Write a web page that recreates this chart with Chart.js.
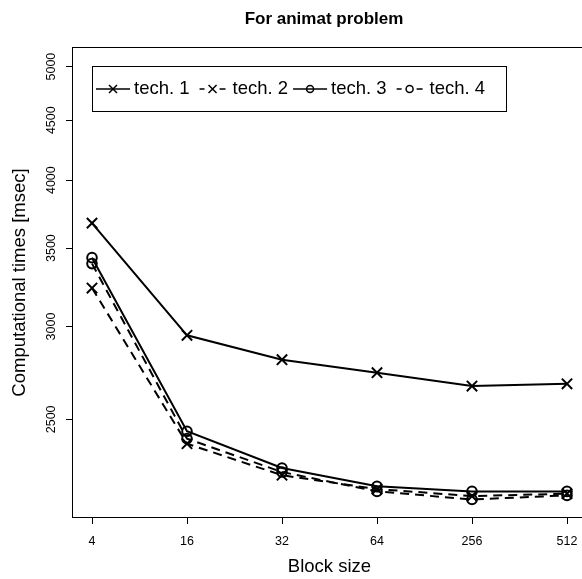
<!DOCTYPE html>
<html><head><meta charset="utf-8">
<script src="https://cdn.jsdelivr.net/npm/chart.js@4"></script>
<style>html,body{margin:0;padding:0;overflow:hidden;background:#fff;width:582px;height:579px}</style>
</head><body>
<canvas id="c" width="648" height="579" style="width:648px;height:579px;display:block"></canvas>
<script>
const categories = ['4', '16', '32', '64', '256', '512'];
const yTicks = [2500, 3000, 3500, 4000, 4500, 5000];
const tech1 = [3676, 2949, 2811, 2740, 2669, 2681];
const tech2 = [3236, 2383, 2240, 2180, 2150, 2160];
const tech3 = [3435, 2442, 2272, 2192, 2170, 2170];
const tech4 = [3395, 2407, 2254, 2170, 2136, 2153];
const seriesNames = ['tech. 1', 'tech. 2', 'tech. 3', 'tech. 4'];
const chartTitle = 'For animat problem';

const FONT = '"Liberation Sans", Arial, Helvetica, sans-serif';
const DASH = [9, 6];

function mkDs(label, vals, dashed, style) {
  return {
    label: label,
    data: vals.map((v, i) => ({x: i, y: v})),
    borderColor: '#000',
    borderWidth: 2,
    borderDash: dashed ? DASH : [],
    pointStyle: style,
    pointRadius: style === 'crossRot' ? 7.3 : 4.8,
    pointBorderWidth: 2,
    pointBorderColor: '#000',
    pointBackgroundColor: 'rgba(0,0,0,0)',
    fill: false,
    tension: 0
  };
}

const boxPlugin = {
  id: 'box',
  afterDraw(chart) {
    const a = chart.chartArea, ctx = chart.ctx;
    ctx.save();
    ctx.strokeStyle = '#000';
    ctx.lineWidth = 1;
    ctx.strokeRect(Math.round(a.left) - 0.5, Math.round(a.top) - 0.5,
      Math.round(a.right - a.left), Math.round(a.bottom - a.top) + 1);
    ctx.restore();
  }
};

const titlePlugin = {
  id: 'rtitle',
  afterDraw(chart) {
    const ctx = chart.ctx;
    ctx.save();
    ctx.fillStyle = '#000';
    ctx.font = 'bold 17px ' + FONT;
    ctx.textAlign = 'center';
    ctx.textBaseline = 'middle';
    ctx.fillText(chartTitle, 324, 19.5);
    ctx.restore();
  }
};

const legendPlugin = {
  id: 'rlegend',
  afterDraw(chart) {
    const ctx = chart.ctx;
    ctx.save();
    ctx.strokeStyle = '#000';
    ctx.fillStyle = '#000';
    ctx.lineWidth = 1;
    ctx.strokeRect(92.5, 66.5, 414, 45);
    ctx.font = '18.5px ' + FONT;
    ctx.textBaseline = 'middle';
    let x = 96;
    const y = 89;
    chart.data.datasets.forEach(ds => {
      ctx.lineWidth = 1.5;
      ctx.beginPath();
      let cx = x + 17;
      if (ds.borderDash.length) {
        [[5, 10], [25, 31]].forEach(s => { ctx.moveTo(x + s[0], y); ctx.lineTo(x + s[1], y); });
        cx = x + 18;
      } else {
        ctx.moveTo(x, y); ctx.lineTo(x + 34, y);
      }
      ctx.stroke();
      ctx.beginPath();
      if (ds.pointStyle === 'crossRot') {
        ctx.moveTo(cx - 4, y - 4); ctx.lineTo(cx + 4, y + 4);
        ctx.moveTo(cx - 4, y + 4); ctx.lineTo(cx + 4, y - 4);
      } else {
        ctx.arc(cx, y, 3.5, 0, Math.PI * 2);
      }
      ctx.stroke();
      ctx.fillText(ds.label, x + 38, y);
      x += 38 + ctx.measureText(ds.label).width + 5;
    });
    ctx.restore();
  }
};

new Chart(document.getElementById('c'), {
  type: 'line',
  data: {
    datasets: [
      mkDs(seriesNames[0], tech1, false, 'crossRot'),
      mkDs(seriesNames[1], tech2, true, 'crossRot'),
      mkDs(seriesNames[2], tech3, false, 'circle'),
      mkDs(seriesNames[3], tech4, true, 'circle')
    ]
  },
  options: {
    responsive: false,
    animation: false,
    devicePixelRatio: 1,
    layout: {padding: {left: 0, right: 62, top: 48, bottom: 0}},
    plugins: {
      legend: {display: false},
      tooltip: {enabled: false},
      title: {display: false}
    },
    scales: {
      x: {
        type: 'linear', min: -0.2, max: 5.2,
        afterBuildTicks: s => { s.ticks = categories.map((c, i) => ({value: i})); },
        afterFit: s => { s.height = 62; },
        ticks: {callback: v => categories[v], color: '#000', font: {family: FONT, size: 12.5}, padding: 10, autoSkip: false, maxRotation: 0},
        grid: {drawOnChartArea: false, drawTicks: true, tickLength: 7, color: '#000', lineWidth: 1},
        border: {display: false},
        title: {display: true, text: 'Block size', color: '#000', font: {family: FONT, size: 18.5}, padding: {top: 0, bottom: 1.4}}
      },
      y: {
        type: 'logarithmic', min: 2063.5, max: 5186,
        afterBuildTicks: s => { s.ticks = yTicks.map(v => ({value: v})); },
        afterFit: s => { s.width = 73; },
        ticks: {callback: v => String(v), minRotation: 90, maxRotation: 90, crossAlign: 'center', padding: 1, color: '#000', font: {family: FONT, size: 12.5}, autoSkip: false},
        grid: {drawOnChartArea: false, drawTicks: true, tickLength: 7, color: '#000', lineWidth: 1},
        border: {display: false},
        title: {display: true, text: 'Computational times [msec]', color: '#000', font: {family: FONT, size: 18.5}, padding: {top: 8.5, bottom: 0}}
      }
    }
  },
  plugins: [boxPlugin, titlePlugin, legendPlugin]
});
</script>
</body></html>
